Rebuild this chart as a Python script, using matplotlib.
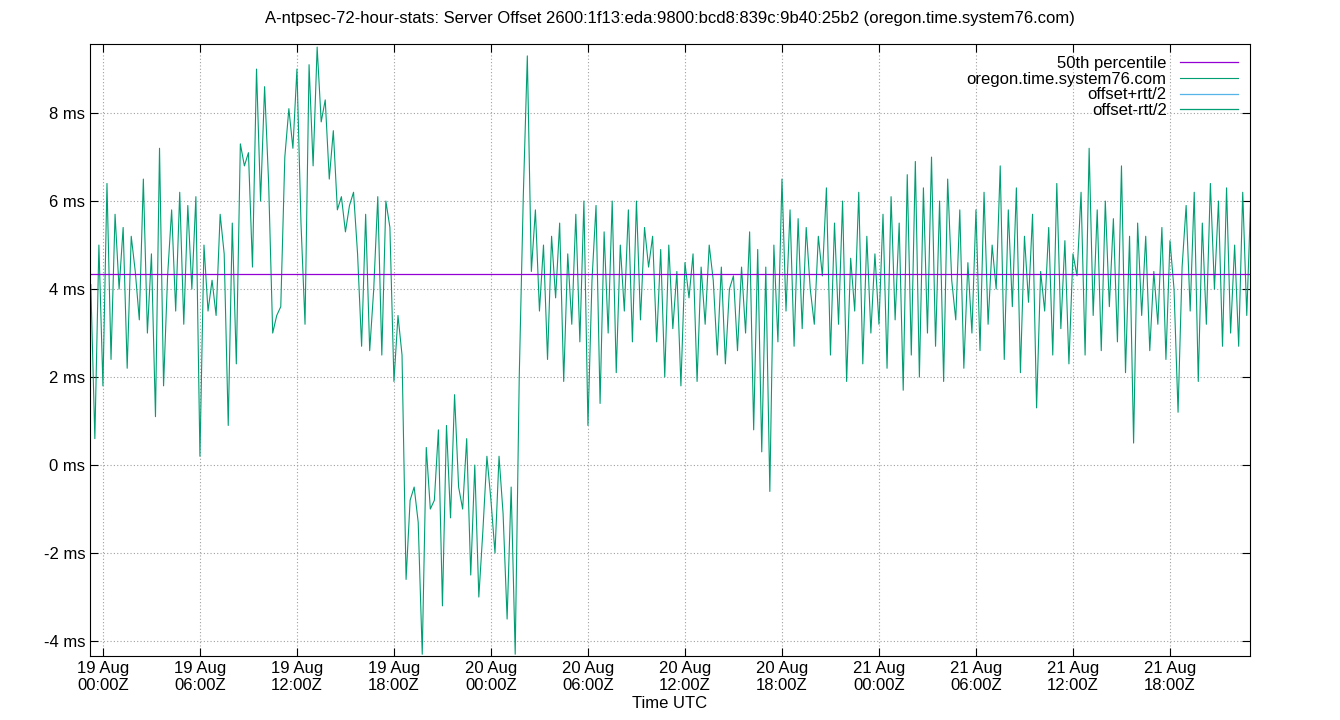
import numpy as np
import pandas as pd
import matplotlib
matplotlib.use("Agg")
import matplotlib.pyplot as plt
import matplotlib.dates as mdates

plt.rcParams['font.family'] = ['Liberation Sans', 'DejaVu Sans']

title = "A-ntpsec-72-hour-stats: Server Offset 2600:1f13:eda:9800:bcd8:839c:9b40:25b2 (oregon.time.system76.com)"
start_time = "2025-08-18 23:15"
step = "15min"
median_ms = 4.35

offset_ms = [
 4.1, 0.6, 5.0,
 1.8, 6.4, 2.4, 5.7, 4.0, 5.4, 2.2, 5.2, 4.4, 3.3, 6.5, 3.0, 4.8, 1.1, 7.2, 1.8, 4.3, 5.8, 3.5, 6.2, 3.2, 5.9, 4.0, 6.1,
 0.2, 5.0, 3.5, 4.2, 3.4, 5.7, 4.8, 0.9, 5.5, 2.3, 7.3, 6.8, 7.1, 4.5, 9.0, 6.0, 8.6, 6.4, 3.0, 3.4, 3.6, 7.0, 8.1, 7.2, 9.0,
 5.5, 3.2, 9.1, 6.8, 9.5, 7.8, 8.3, 6.5, 7.6, 5.8, 6.1, 5.3, 5.9, 6.2, 4.8, 2.7, 5.7, 2.6, 4.0, 6.1, 2.5, 6.0, 5.4, 1.9,
 3.4, 2.5, -2.6, -0.8, -0.5, -1.3, -4.3, 0.4, -1.0, -0.8, 0.8, -3.2, 0.9, -1.2, 1.6, -0.5, -1.0, 0.6, -2.5, 0.0, -3.0, -1.5, 0.2, -0.8,
 -2.0, 0.2, -1.1, -3.5, -0.5,
 -4.3, 2.0, 6.1, 9.3, 4.4, 5.8, 3.5, 5.0, 2.4, 5.2, 3.8, 5.5, 1.9, 4.8, 3.2, 5.7, 2.8, 6.0, 0.9,
 4.2, 5.9, 1.4, 5.3, 3.0, 6.0, 2.1, 5.0, 3.5, 5.8, 2.8, 6.0, 3.3, 5.4, 4.5, 5.2, 2.8, 4.9, 2.0, 5.0, 3.1, 4.4, 1.8, 4.6,
 3.8, 4.8, 1.9, 4.5, 3.2, 5.0, 4.2, 2.5, 4.5, 2.3, 4.0, 4.3, 2.6, 4.5, 3.0, 5.3, 0.8, 4.9, 0.3, 4.5, -0.6, 5.0, 2.8, 6.5,
 3.5, 5.8, 2.7, 5.6, 3.1, 5.4, 4.0, 3.2, 5.2, 4.3, 6.3, 2.5, 5.5, 3.2, 6.0, 1.9, 4.7, 3.5, 6.2, 2.3, 5.2, 3.0, 4.8, 3.2,
 5.7, 2.2, 6.1, 3.3, 5.5, 1.7, 6.6, 2.5, 6.9, 2.0, 6.3, 3.0, 7.0, 2.7, 6.0, 1.9, 6.5, 4.2, 3.3, 5.8, 2.2, 4.6, 3.0, 5.8,
 2.6, 6.2, 3.2, 5.0, 4.0, 6.8, 2.4, 5.8, 3.6, 6.3, 2.1, 5.2, 3.7, 5.7, 1.3, 4.4, 3.5, 5.4, 2.5, 6.4, 3.1, 5.1, 2.3, 4.8,
 4.3, 6.2, 2.5, 7.2, 3.4, 5.8, 2.6, 6.0, 3.6, 5.6, 2.8, 6.8, 2.1, 5.2, 0.5, 5.5, 3.4, 5.2, 2.6, 4.4, 3.2, 5.4, 2.4, 5.1,
 4.0, 1.2, 4.5, 5.9, 3.5, 6.2, 1.9, 5.5, 3.2, 6.4, 4.0, 6.0, 2.7, 6.3, 3.0, 5.0, 2.7, 6.2, 3.4, 6.1,
]
times = pd.date_range(start_time, periods=len(offset_ms), freq=step)

fig = plt.figure(figsize=(13.4, 7.2), dpi=100)
ax = fig.add_axes([90/1340, 64/720, 1160/1340, 612/720])
ax.plot(times, offset_ms, color='#009e73', lw=0.8, label='oregon.time.system76.com')
ax.axhline(median_ms, color='#9400d3', lw=0.9, label='50th percentile')
ax.plot([], [], color='#56b4e9', lw=0.9, label='offset+rtt/2')
ax.plot([], [], color='#009e73', lw=0.9, label='offset-rtt/2')
h, l = ax.get_legend_handles_labels()
order = [1, 0, 2, 3]
ax.legend([h[i] for i in order], [l[i] for i in order], loc='upper right', frameon=False,
          markerfirst=False, fontsize=12, handlelength=3.5, labelspacing=0.05, borderaxespad=0.3)

ax.set_xlim(pd.Timestamp("2025-08-18 23:12"), pd.Timestamp("2025-08-21 22:57"))
ax.set_ylim(-4.34, 9.57)
ax.set_yticks(range(-4, 9, 2))
ax.set_yticklabels([f"{v} ms" for v in range(-4, 9, 2)])
ax.xaxis.set_major_locator(mdates.HourLocator(byhour=[0, 6, 12, 18]))
ax.xaxis.set_major_formatter(mdates.DateFormatter("%d %b\n%H:%MZ"))
ax.tick_params(direction='in', top=True, right=True, labelsize=12, length=6)
ax.grid(True, color='#a0a0a0', linestyle=(0, (1, 2)), lw=0.8)
ax.set_xlabel("Time UTC", fontsize=12, labelpad=2)
fig.suptitle(title, fontsize=12, y=0.985)
fig.savefig("out.png")
